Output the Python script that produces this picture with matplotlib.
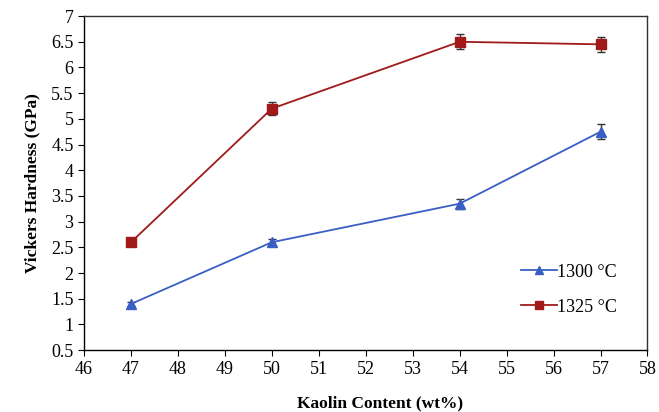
import matplotlib.pyplot as plt

kaolin = [47, 50, 54, 57]
hv_1300 = [1.4, 2.6, 3.35, 4.75]
err_1300 = [0.04, 0.06, 0.1, 0.15]
hv_1325 = [2.6, 5.2, 6.5, 6.45]
err_1325 = [0.0, 0.13, 0.15, 0.15]

plt.rcParams['font.family'] = ['Liberation Serif', 'DejaVu Serif']

fig = plt.figure(figsize=(6.59, 4.12), dpi=100)
ax = fig.add_axes([0.1275, 0.150, 0.855, 0.811])

ax.errorbar(kaolin, hv_1300, yerr=err_1300, color='#3a5fc4', marker='^', ms=7,
            lw=1.3, ecolor='#333333', elinewidth=1, capsize=3)
ax.errorbar(kaolin, hv_1325, yerr=err_1325, color='#a01a1a', marker='s', ms=7,
            lw=1.3, ecolor='#333333', elinewidth=1, capsize=3)
# legend handles without the error bars
h1, = ax.plot([], [], color='#3a5fc4', marker='^', ms=6, lw=1.3, label='1300 °C')
h2, = ax.plot([], [], color='#a01a1a', marker='s', ms=6, lw=1.3, label='1325 °C')

ax.set_xlim(46, 58)
ax.set_ylim(0.5, 7)
ax.set_xticks(range(46, 59))
ax.set_yticks([0.5, 1, 1.5, 2, 2.5, 3, 3.5, 4, 4.5, 5, 5.5, 6, 6.5, 7])
ax.set_yticklabels(['0.5', '1', '1.5', '2', '2.5', '3', '3.5', '4', '4.5', '5',
                    '5.5', '6', '6.5', '7'])
ax.tick_params(direction='out', length=4, labelsize=13, color='black')
for s in ax.spines.values():
    s.set_linewidth(1.0)
ax.spines['top'].set_color('#333333')
ax.spines['right'].set_color('#333333')

ax.set_xlabel('Kaolin Content (wt%)', fontsize=12.5, fontweight='bold')
ax.xaxis.set_label_coords(0.525, -0.135)
ax.set_ylabel('Vickers Hardness (GPa)', fontsize=12.5, fontweight='bold', labelpad=8)

ax.legend(handles=[h1, h2], loc='lower right', bbox_to_anchor=(0.975, 0.055),
          frameon=False, fontsize=13, handlelength=2.0, handletextpad=0.0,
          labelspacing=1.0)

fig.savefig('out.png', dpi=100)
